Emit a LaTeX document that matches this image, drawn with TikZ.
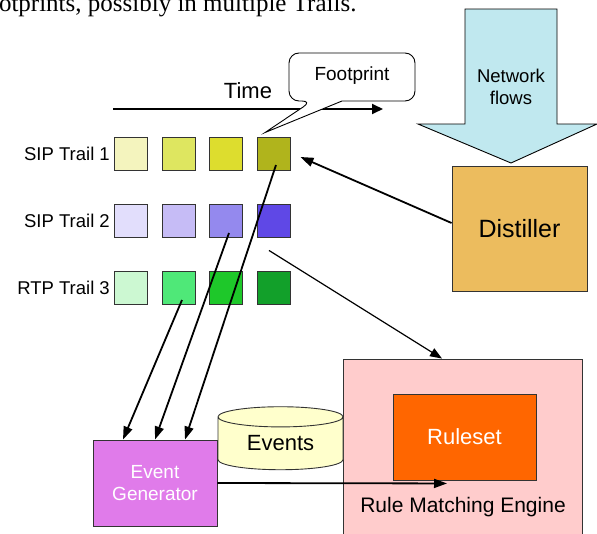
\documentclass[tikz,border=0pt]{standalone}
\usepackage{fontspec}
\setmainfont{Liberation Sans}
\newfontfamily\seriffont{Liberation Serif}
\usetikzlibrary{arrows.meta,shapes.geometric}

\definecolor{ya}{HTML}{F4F4BE}
\definecolor{yb}{HTML}{DEE660}
\definecolor{yc}{HTML}{DDDD2E}
\definecolor{yd}{HTML}{B0B41C}
\definecolor{va}{HTML}{E2DEFC}
\definecolor{vb}{HTML}{C6BCF6}
\definecolor{vc}{HTML}{9489EE}
\definecolor{vd}{HTML}{5F48E6}
\definecolor{ga}{HTML}{CCF8D2}
\definecolor{gb}{HTML}{4FE878}
\definecolor{gc}{HTML}{1EC82A}
\definecolor{gd}{HTML}{12A02A}
\definecolor{netcol}{HTML}{C0E8EF}
\definecolor{distcol}{HTML}{ECBC5E}
\definecolor{gencol}{HTML}{E07BEA}
\definecolor{evcol}{HTML}{FFFFCC}
\definecolor{rmecol}{HTML}{FFCCCC}
\definecolor{rscol}{HTML}{FF6600}

\tikzset{
  sq/.style={draw=black!80, line width=0.9pt, minimum size=33pt, inner sep=0pt},
  lbl/.style={anchor=east, inner sep=0pt, font=\fontsize{18.5}{20}\selectfont},
  box/.style={draw=black!80, line width=0.9pt, inner sep=0pt},
  fat/.style={line width=1.8pt, -{Triangle[length=13pt,width=9pt]}},
  thin/.style={line width=1.2pt, -{Triangle[length=12pt,width=9pt]}},
}

\begin{document}
\begin{tikzpicture}[x=1pt, y=-1pt]
	\useasboundingbox (0,0) rectangle (597,533);
	\clip (0,0) rectangle (597,533);

	% Testo in alto
	\node[anchor=base west, inner sep=0pt, font=\seriffont\fontsize{25}{28}\selectfont] (cap) at (-22,11) {footprints, possibly in multiple Trails.};

	% Tracce
	\node[lbl] (l1) at (110,153.5) {SIP Trail 1};
	\node[lbl] (l2) at (110,220.5) {SIP Trail 2};
	\node[lbl] (l3) at (110,288) {RTP Trail 3};

	\node[sq, fill=ya] (s11) at (130.5,153.5) {};
	\node[sq, fill=yb] (s12) at (178.5,153.5) {};
	\node[sq, fill=yc] (s13) at (226,153.5) {};
	\node[sq, fill=yd] (s14) at (274,153.5) {};

	\node[sq, fill=va] (s21) at (130.5,220.5) {};
	\node[sq, fill=vb] (s22) at (178.5,220.5) {};
	\node[sq, fill=vc] (s23) at (226,220.5) {};
	\node[sq, fill=vd] (s24) at (274,220.5) {};

	\node[sq, fill=ga] (s31) at (130.5,288) {};
	\node[sq, fill=gb] (s32) at (178.5,288) {};
	\node[sq, fill=gc] (s33) at (226,288) {};
	\node[sq, fill=gd] (s34) at (274,288) {};

	% Tempo
	\coordinate (t0) at (113,109);
	\coordinate (t1) at (383,109);
	\draw[line width=1.8pt, -{Triangle[length=11pt,width=10pt]}] (t0) -- (t1);
	\node[font=\fontsize{22}{24}\selectfont] (time) at (248,91) {Time};

	% Fumetto
	\coordinate (tip) at ([xshift=-9pt,yshift=4pt]s14.north);
	\draw[line width=0.9pt, fill=white] (342,101) [rounded corners=10pt] -- (415,101) -- (415,53) -- (289,53) -- (289,101) -- (312,101) [sharp corners] -- (tip) -- cycle;
	\node[font=\fontsize{19}{21}\selectfont] (fp) at (352,76) {Footprint};

	% Flussi di rete
	\draw[line width=0.9pt, fill=netcol] (465,9) -- (557,9) -- (557,124) -- (597,124) -- (511,163) -- (418,124) -- (465,124) -- cycle;
	\node[align=center, font=\fontsize{18.5}{22}\selectfont] (net) at (511,87) {Network\\flows};

	% Blocchi
	\node[box, fill=distcol, minimum width=135pt, minimum height=125pt, font=\fontsize{25}{27}\selectfont] (dist) at (519.5,228.5) {Distiller};
	\node[box, fill=rmecol, minimum width=239pt, minimum height=190pt] (rme) at (462.5,454) {};
	\node[box, fill=rscol, minimum width=143pt, minimum height=86pt, text=white, font=\fontsize{22}{24}\selectfont] (rs) at (464.5,437) {Ruleset};
	\node[font=\fontsize{21}{23}\selectfont] (rmetext) at (463,507) {Rule Matching Engine};
	\node[box, fill=gencol, minimum width=124pt, minimum height=86pt, text=white, align=center, font=\fontsize{19}{22}\selectfont] (eg) at (155,483) {Event\\Generator};
	\node[cylinder, shape border rotate=90, draw=black!80, line width=0.9pt, fill=evcol, minimum width=125pt, minimum height=63pt, aspect=0.3, inner sep=0pt, font=\fontsize{22}{24}\selectfont] (ev) at (280.5,443.5) {Events};

	% Collegamenti
	\draw[fat] ([yshift=5.5pt]dist.west) -- ([xshift=9.5pt,yshift=-3.5pt]s14.east);
	\draw[fat] ([xshift=2pt,yshift=-11.5pt]s14.center) -- ([xshift=30pt]eg.north);
	\draw[fat] ([xshift=3pt,yshift=-12.5pt]s23.center) -- (eg.north);
	\draw[fat] ([xshift=3.5pt,yshift=-12pt]s32.center) -- ([xshift=-32pt]eg.north);
	\draw[thin] ([xshift=-5pt,yshift=-13pt]s24.south) -- ([xshift=-20.5pt]rme.north);
	\draw[fat] (eg.east) -- ([xshift=-17.5pt,yshift=-3pt]rs.south);

\end{tikzpicture}
\end{document}
